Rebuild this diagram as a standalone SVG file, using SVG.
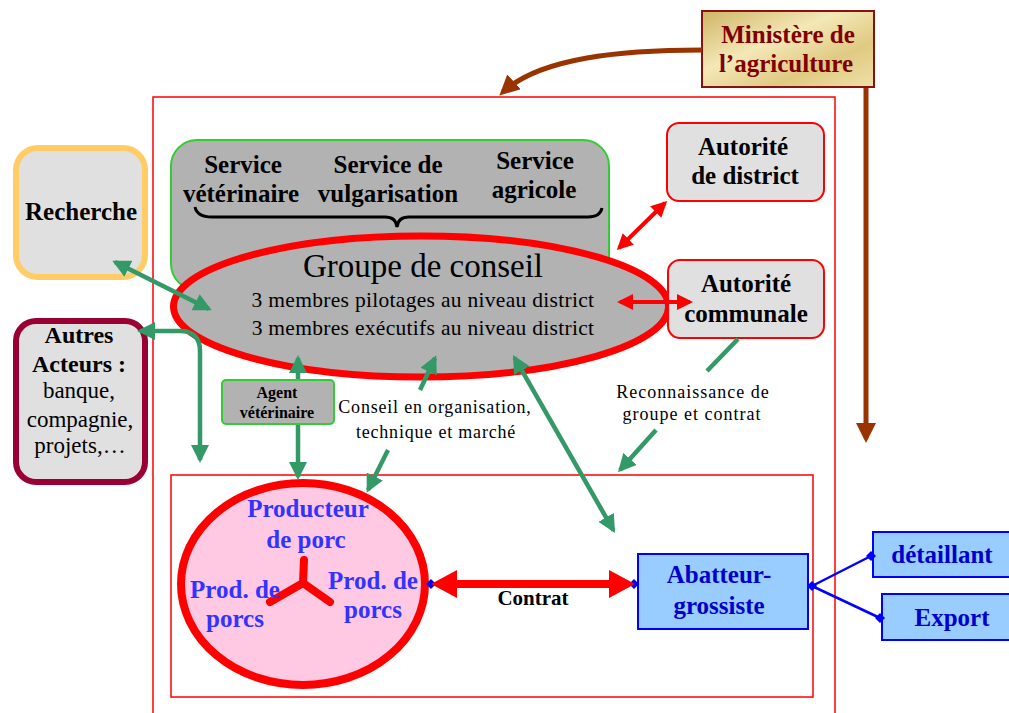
<svg xmlns="http://www.w3.org/2000/svg" width="1009" height="713" viewBox="0 0 1009 713">
  <style>
    .serif { font-family: "Liberation Serif", "Times New Roman", serif; }
    .bold { font-weight: bold; }
    .t25 { font-size: 25px; }
    .center { text-anchor: middle; }
    .green { stroke: #339966; stroke-width: 4.5; fill: none; }
    .redln { stroke: #FF0000; stroke-width: 4; fill: none; }
    .brown { stroke: #993300; stroke-width: 5; fill: none; }
    .blueln { stroke: #0000FF; stroke-width: 2.5; fill: none; }
    .frame { fill: none; stroke: #FF0000; stroke-width: 1.5; }
    .box { fill: #E0E0E0; }
    .prod { fill: #3333FF; }
    .abat { fill: #0000CC; }
  </style>
  <defs>
    <linearGradient id="gold" x1="0" y1="0" x2="1" y2="1">
      <stop offset="0" stop-color="#CFB464"/>
      <stop offset="0.4" stop-color="#F4E8B8"/>
      <stop offset="0.7" stop-color="#E0CA82"/>
      <stop offset="1" stop-color="#EFE0A6"/>
    </linearGradient>
    <marker id="gHead" markerUnits="userSpaceOnUse" viewBox="0 0 18 18" markerWidth="18" markerHeight="18" refX="15" refY="9" orient="auto-start-reverse">
      <path d="M0,0 L18,9 L0,18 z" fill="#339966"/>
    </marker>
    <marker id="rHead" markerUnits="userSpaceOnUse" viewBox="0 0 16 16" markerWidth="16" markerHeight="16" refX="13" refY="8" orient="auto-start-reverse">
      <path d="M0,0 L16,8 L0,16 z" fill="#FF0000"/>
    </marker>
    <marker id="rBig" markerUnits="userSpaceOnUse" viewBox="0 0 26 28" markerWidth="26" markerHeight="28" refX="18" refY="14" orient="auto-start-reverse">
      <path d="M0,0 L26,14 L0,28 z" fill="#FF0000"/>
    </marker>
    <marker id="bHead" markerUnits="userSpaceOnUse" viewBox="0 0 20 20" markerWidth="20" markerHeight="20" refX="15" refY="10" orient="auto-start-reverse">
      <path d="M0,0 L20,10 L0,20 z" fill="#993300"/>
    </marker>
    <path id="diamond" d="M0,-5 L5,0 L0,5 L-5,0 z" fill="#0000FF"/>
  </defs>

  <rect width="1009" height="713" fill="#FFFFFF"/>

  <!-- district frame and production frame -->
  <g id="frames">
    <rect class="frame" x="153" y="97" width="682" height="640"/>
    <rect class="frame" x="171" y="475" width="642" height="222"/>
  </g>

  <g id="ministere">
    <rect x="702" y="11" width="172" height="76" fill="url(#gold)" stroke="#8B1010" stroke-width="2"/>
    <text class="serif bold t25 center" x="788" y="43" fill="#800000">Ministère de</text>
    <text class="serif bold t25 center" x="786" y="72" fill="#800000">l’agriculture</text>
  </g>

  <g id="services">
    <rect x="171" y="140" width="438" height="150" rx="26" fill="#B2B2B2" stroke="#33CC33" stroke-width="2"/>
    <text class="serif bold t25 center" x="243" y="173">Service</text>
    <text class="serif bold t25 center" x="241" y="202">vétérinaire</text>
    <text class="serif bold t25 center" x="388" y="173">Service de</text>
    <text class="serif bold t25 center" x="388" y="202">vulgarisation</text>
    <text class="serif bold t25 center" x="535" y="169">Service</text>
    <text class="serif bold t25 center" x="534" y="198">agricole</text>
    <path d="M195,207 Q197,217 212,217 L385,217 Q396,217 397,227 Q398,217 409,217 L588,217 Q600,217 602,208" fill="none" stroke="#000000" stroke-width="3"/>
  </g>

  <g id="groupe">
    <ellipse cx="421" cy="306.5" rx="247.5" ry="70.5" fill="#B2B2B2" stroke="#FF0000" stroke-width="7"/>
    <text class="serif center" x="423" y="277" font-size="33">Groupe de conseil</text>
    <text class="serif center" x="423" y="307" font-size="21.5" letter-spacing="0.3">3 membres pilotages au niveau district</text>
    <text class="serif center" x="423" y="335" font-size="21.5" letter-spacing="0.3">3 membres exécutifs au niveau district</text>
  </g>

  <g id="recherche">
    <rect x="16" y="148" width="129" height="129" rx="22" class="box" stroke="#FFCC66" stroke-width="6"/>
    <text class="serif bold t25 center" x="81" y="220">Recherche</text>
  </g>

  <g id="autres">
    <rect x="16" y="321" width="129" height="161" rx="20" class="box" stroke="#990033" stroke-width="6"/>
    <text class="serif bold center" x="79" y="343" font-size="24">Autres</text>
    <text class="serif bold center" x="79" y="372" font-size="24">Acteurs :</text>
    <text class="serif center" x="79" y="398" font-size="23">banque,</text>
    <text class="serif center" x="80" y="427" font-size="23">compagnie,</text>
    <text class="serif center" x="80" y="453" font-size="23">projets,…</text>
  </g>

  <g id="autorite-district">
    <rect x="667" y="123" width="157" height="78" rx="12" class="box" stroke="#FF0000" stroke-width="2"/>
    <text class="serif bold t25 center" x="743" y="155">Autorité</text>
    <text class="serif bold t25 center" x="745" y="184">de district</text>
  </g>

  <g id="autorite-communale">
    <rect x="668" y="260" width="156" height="78" rx="12" class="box" stroke="#FF0000" stroke-width="2"/>
    <text class="serif bold t25 center" x="746" y="292">Autorité</text>
    <text class="serif bold t25 center" x="746" y="322">communale</text>
  </g>

  <g id="producteurs">
    <ellipse cx="303" cy="584" rx="122" ry="101" fill="#FFC8E3" stroke="#FF0000" stroke-width="8"/>
    <text class="serif bold t25 center prod" x="308" y="517">Producteur</text>
    <text class="serif bold t25 center prod" x="306" y="548">de porc</text>
    <text class="serif bold t25 center prod" x="373" y="589">Prod. de</text>
    <text class="serif bold t25 center prod" x="373" y="618">porcs</text>
    <path d="M304,560 L303,583 M270,602 L303,583 L330,602" fill="none" stroke="#FF0000" stroke-width="8" stroke-linecap="round" stroke-linejoin="round"/>
    <text class="serif bold t25 center prod" x="235" y="598">Prod. de</text>
    <text class="serif bold t25 center prod" x="235" y="627">porcs</text>
  </g>

  <g id="abatteur">
    <rect x="638" y="554" width="170" height="75" fill="#99CCFF" stroke="#0000FF" stroke-width="2"/>
    <text class="serif bold t25 center abat" x="719" y="583">Abatteur-</text>
    <text class="serif bold t25 center abat" x="719" y="614">grossiste</text>
  </g>

  <g id="detaillant">
    <rect x="873" y="532" width="150" height="45" fill="#99CCFF" stroke="#0000FF" stroke-width="2"/>
    <text class="serif bold t25 center abat" x="942" y="563">détaillant</text>
  </g>

  <g id="export">
    <rect x="882" y="594" width="140" height="46" fill="#99CCFF" stroke="#0000FF" stroke-width="2"/>
    <text class="serif bold t25 center abat" x="952" y="626">Export</text>
  </g>

  <g id="connectors">
    <!-- ministry links -->
    <path class="brown" d="M702,50 C620,50 540,58 503,92" marker-end="url(#bHead)"/>
    <path class="brown" d="M866,88 L866,438" marker-end="url(#bHead)"/>

    <!-- advisory links -->
    <path class="green" d="M115,262 L209,309" marker-start="url(#gHead)" marker-end="url(#gHead)"/>
    <path class="green" d="M140,331 L180,331 Q200,331 200,351 L200,460" marker-start="url(#gHead)" marker-end="url(#gHead)"/>
    <path class="green" d="M298,358 L298,477" marker-start="url(#gHead)" marker-end="url(#gHead)"/>
    <path class="green" d="M420,390 L435,358" marker-end="url(#gHead)"/>
    <path class="green" d="M388,450 L368,490" marker-end="url(#gHead)"/>
    <path class="green" d="M514.5,357.6 L613.5,530.4" marker-start="url(#gHead)" marker-end="url(#gHead)"/>
    <path class="green" d="M738,339 L707,371"/>
    <path class="green" d="M656,430 L620,470" marker-end="url(#gHead)"/>

    <!-- authority links -->
    <path class="redln" d="M665,203 L619,248" marker-start="url(#rHead)" marker-end="url(#rHead)"/>
    <path class="redln" d="M620,302 L690,302" marker-start="url(#rHead)" marker-end="url(#rHead)"/>

    <!-- market links -->
    <use href="#diamond" x="431" y="584"/>
    <use href="#diamond" x="634" y="584"/>
    <path d="M439,584 L627,584" stroke="#FF0000" stroke-width="8" fill="none" marker-start="url(#rBig)" marker-end="url(#rBig)"/>
    <path class="blueln" d="M812,586 L871,556 M812,586 L880,618"/>
    <use href="#diamond" x="812" y="586"/>
    <use href="#diamond" x="871" y="556"/>
    <use href="#diamond" x="880" y="618"/>

    <text class="serif bold center" x="533" y="605" font-size="21">Contrat</text>
    <text class="serif center" x="435" y="413" font-size="18" letter-spacing="0.8">Conseil en organisation,</text>
    <text class="serif center" x="436" y="438" font-size="18" letter-spacing="0.8">technique et marché</text>
    <text class="serif center" x="693" y="398" font-size="18" letter-spacing="1">Reconnaissance de</text>
    <text class="serif center" x="692" y="420" font-size="18" letter-spacing="1">groupe et contrat</text>
  </g>

  <g id="agent">
    <rect x="222" y="380" width="112" height="44" rx="4" fill="#B2B2B2" stroke="#33CC33" stroke-width="2"/>
    <text class="serif bold center" x="277" y="398" font-size="16">Agent</text>
    <text class="serif bold center" x="277" y="418" font-size="16">vétérinaire</text>
  </g>
</svg>
